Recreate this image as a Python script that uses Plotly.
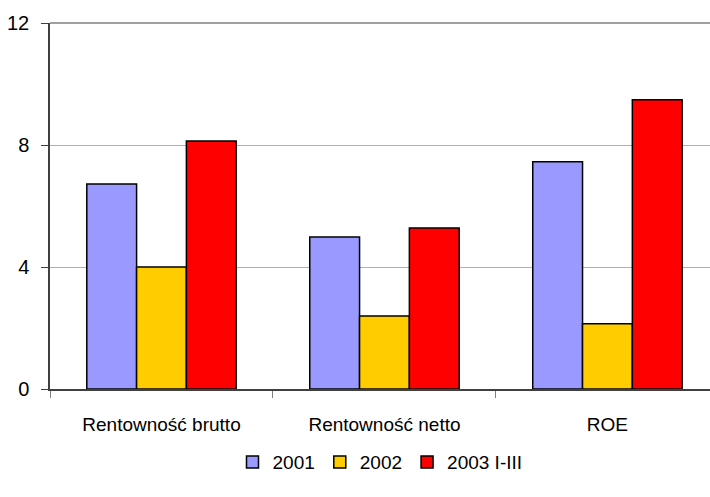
import plotly.graph_objects as go

categories = ["Rentowność brutto", "Rentowność netto", "ROE"]
series_names = ["2001", "2002", "2003 I-III"]
values_2001 = [6.72, 4.98, 7.45]
values_2002 = [4.00, 2.39, 2.14]
values_2003 = [8.13, 5.28, 9.48]
colors = ["#9999FF", "#FFCC00", "#FF0000"]
y_ticks = [0, 4, 8, 12]

FONT = "Liberation Sans, Arial, sans-serif"

fig = go.Figure()
for name, vals, col in zip(series_names, [values_2001, values_2002, values_2003], colors):
    fig.add_trace(go.Bar(
        x=categories, y=vals, name=name,
        marker=dict(color=col, line=dict(color="#000000", width=1.5)),
    ))

fig.update_layout(
    width=710, height=497,
    margin=dict(l=50, r=0, t=23, b=108),
    paper_bgcolor="white", plot_bgcolor="white",
    barmode="group", bargap=0.33, bargroupgap=0,
    font=dict(family=FONT, size=19, color="#000000"),
    showlegend=True,
    legend=dict(orientation="h", x=0.5, xanchor="center", y=-0.2, yanchor="middle",
                font=dict(size=19), itemwidth=30, tracegroupgap=0),
    xaxis=dict(
        type="category", range=[-0.5, 2.46],
        showline=True, linecolor="#404040", linewidth=1.5,
        ticks="outside", tickson="boundaries", ticklen=7, tickcolor="#808080",
        showgrid=False, ticklabelstandoff=17,
        tickfont=dict(size=19),
    ),
    yaxis=dict(
        range=[0, 12], tickvals=y_ticks,
        showline=True, linecolor="#404040", linewidth=1.5,
        ticks="outside", ticklen=7, tickcolor="#404040",
        showgrid=True, gridcolor="#B0B0B0", gridwidth=1,
        zeroline=False, ticklabelstandoff=8,
        tickfont=dict(size=20),
    ),
    shapes=[dict(type="line", xref="paper", yref="paper", x0=0, x1=1, y0=1, y1=1,
                 line=dict(color="#808080", width=1.5))],
)

fig.write_html("out.html")
